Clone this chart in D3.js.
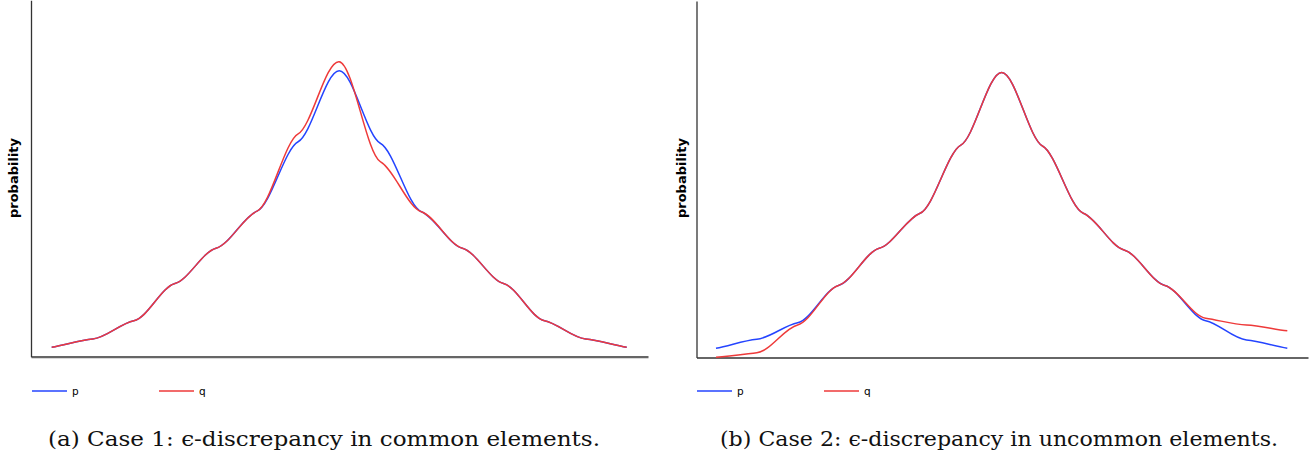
<!DOCTYPE html>
<html>
<head>
<meta charset="utf-8">
<script src="https://cdn.jsdelivr.net/npm/d3@7"></script>
<style>
  html, body { margin: 0; padding: 0; background: #fff; }
  svg { display: block; }
</style>
</head>
<body>
<svg id="chart" width="1315" height="457"></svg>
<script>
// ---------------- data ----------------
const elements = [1, 2, 3, 4, 5, 6, 7, 8, 9, 10, 11, 12, 13, 14, 15];

// Case 1: discrepancy in common (high-probability) elements
const case1P = [0.0063, 0.0119, 0.0242, 0.0493, 0.0730, 0.0980, 0.1447, 0.1925, 0.1437, 0.0976, 0.0730, 0.0493, 0.0242, 0.0119, 0.0063];
const case1Q = [0.0063, 0.0119, 0.0242, 0.0493, 0.0730, 0.0980, 0.1500, 0.1986, 0.1313, 0.0976, 0.0730, 0.0493, 0.0242, 0.0119, 0.0063];

// Case 2: discrepancy in uncommon (low-probability) elements
const case2P = [0.0062, 0.0123, 0.0234, 0.0485, 0.0735, 0.0971, 0.1430, 0.1919, 0.1424, 0.0971, 0.0724, 0.0485, 0.0248, 0.0118, 0.0062];
const case2Q = [0.0001, 0.0032, 0.0219, 0.0485, 0.0735, 0.0971, 0.1430, 0.1919, 0.1424, 0.0971, 0.0724, 0.0485, 0.0264, 0.0219, 0.0180];

const seriesNames = ["p", "q"];
const yLabel = "probability";
const captions = [
  "(a) Case 1: \u03F5-discrepancy in common elements.",
  "(b) Case 2: \u03F5-discrepancy in uncommon elements."
];
const yDomain = [0, 0.24];

// ---------------- drawing ----------------
const colors = { p: "#2444ff", q: "#ee3a3a" };
const svg = d3.select("#chart");

// smooth "soft step" curve: cubic Hermite with damped tangents
function softStep(k) {
  function C(ctx) { this._c = ctx; }
  C.prototype = {
    areaStart() {}, areaEnd() {},
    lineStart() { this._x = []; this._y = []; },
    point(x, y) { this._x.push(+x); this._y.push(+y); },
    lineEnd() {
      const X = this._x, Y = this._y, n = X.length, c = this._c;
      if (!n) return;
      c.moveTo(X[0], Y[0]);
      if (n < 2) return;
      const s = [];
      for (let i = 0; i < n - 1; i++) s[i] = (Y[i + 1] - Y[i]) / (X[i + 1] - X[i]);
      const m = [];
      m[0] = 0.8 * s[0];
      m[n - 1] = 0.8 * s[n - 2];
      for (let i = 1; i < n - 1; i++) m[i] = k * (s[i - 1] + s[i]) / 2;
      for (let i = 0; i < n - 1; i++) {
        const h = (X[i + 1] - X[i]) / 3;
        c.bezierCurveTo(X[i] + h, Y[i] + m[i] * h, X[i + 1] - h, Y[i + 1] - m[i + 1] * h, X[i + 1], Y[i + 1]);
      }
    }
  };
  return ctx => new C(ctx);
}

const panels = [
  { p: case1P, q: case1Q, axisX0: 31, axisX1: 648, x0: 51.7, x1: 626.7, yBottom: 356.7, yTop: 0.2,
    labelX: 13.5, legendX: 32, caption: captions[0], capX: 324, capW: 552 },
  { p: case2P, q: case2Q, axisX0: 696.5, axisX1: 1308, x0: 716, x1: 1287.3, yBottom: 357.5, yTop: 1.0,
    labelX: 681, legendX: 697, caption: captions[1], capX: 999, capW: 558 }
];

panels.forEach(cfg => {
  const g = svg.append("g");
  const x = d3.scaleLinear().domain([elements[0], elements[elements.length - 1]]).range([cfg.x0, cfg.x1]);
  const y = d3.scaleLinear().domain(yDomain).range([cfg.yBottom, cfg.yBottom - 356.5]);

  const xFrame = d3.scaleLinear().domain([x.invert(cfg.axisX0), x.invert(cfg.axisX1)]).range([cfg.axisX0, cfg.axisX1]);
  const yFrame = d3.scaleLinear().domain([0, 1]).range([cfg.yBottom, cfg.yTop]);

  const xAxis = g.append("g").attr("transform", `translate(0,${cfg.yBottom})`)
    .call(d3.axisBottom(xFrame).ticks(0).tickSizeOuter(0));
  xAxis.select(".domain").attr("stroke", "#666").attr("stroke-width", 2.2);

  const yAxis = g.append("g").attr("transform", `translate(${cfg.axisX0},0)`)
    .call(d3.axisLeft(yFrame).ticks(0).tickSizeOuter(0));
  yAxis.select(".domain").attr("stroke", "#333").attr("stroke-width", 1.3);

  const line = d3.line()
    .x((d, i) => x(elements[i]))
    .y(d => y(d))
    .curve(softStep(0.3));

  g.append("path").datum(cfg.p).attr("d", line)
    .attr("fill", "none").attr("stroke", colors.p).attr("stroke-width", 1.5);
  g.append("path").datum(cfg.q).attr("d", line)
    .attr("fill", "none").attr("stroke", colors.q).attr("stroke-width", 1.5);

  g.append("text")
    .attr("transform", `translate(${cfg.labelX + 4.5},${178}) rotate(-90)`)
    .attr("text-anchor", "middle")
    .attr("font-family", "DejaVu Sans, sans-serif")
    .attr("font-weight", "bold")
    .attr("font-size", 13)
    .attr("fill", "#000")
    .text(yLabel);

  seriesNames.forEach((name, i) => {
    const lx = cfg.legendX + i * 127;
    g.append("line").attr("x1", lx).attr("x2", lx + 35).attr("y1", 391).attr("y2", 391)
      .attr("stroke", colors[name]).attr("stroke-width", 1.3);
    g.append("text").attr("x", lx + 40).attr("y", 395)
      .attr("font-family", "DejaVu Sans, sans-serif").attr("font-size", 10.5)
      .attr("fill", "#000").text(name);
  });

  g.append("text").attr("x", cfg.capX).attr("y", 446)
    .attr("text-anchor", "middle")
    .attr("font-family", "DejaVu Serif, serif")
    .attr("font-size", 21)
    .attr("textLength", cfg.capW)
    .attr("lengthAdjust", "spacingAndGlyphs")
    .attr("fill", "#111")
    .text(cfg.caption);
});
</script>
</body>
</html>
